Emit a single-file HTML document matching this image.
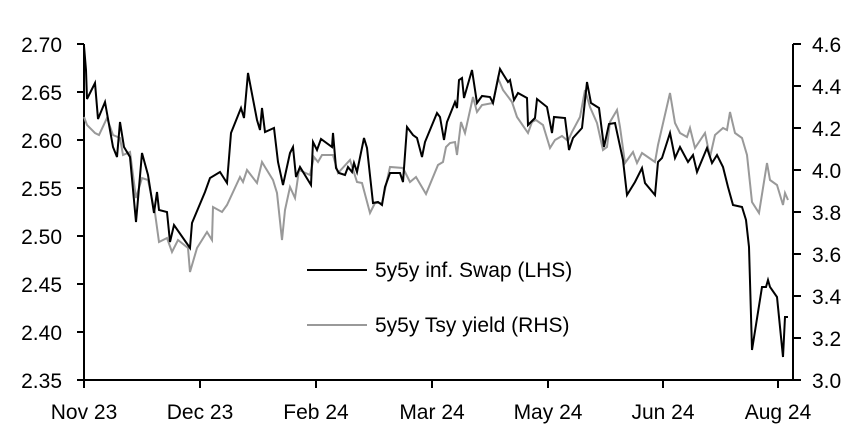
<!DOCTYPE html><html><head><style>body{margin:0;background:#fff}svg{display:block}text{font-family:"Liberation Sans",Arial,sans-serif;fill:#000}</style></head><body>
<svg width="852" height="431" viewBox="0 0 852 431">
<g stroke="#000" stroke-width="2" fill="none">
<path d="M84 44V380H793V44"/>
<path d="M77 44H84M77 92H84M77 140H84M77 188H84M77 236H84M77 284H84M77 332H84M77 380H84"/>
<path d="M793 44H801M793 86H801M793 128H801M793 170H801M793 212H801M793 254H801M793 296H801M793 338H801M793 380H801"/>
<path d="M84 380V388M200 380V388M316 380V388M432 380V388M548 380V388M663 380V388M778 380V388"/>
</g>
<g font-size="21">
<text x="62" y="52" text-anchor="end">2.70</text><text x="62" y="100" text-anchor="end">2.65</text><text x="62" y="148" text-anchor="end">2.60</text><text x="62" y="196" text-anchor="end">2.55</text><text x="62" y="244" text-anchor="end">2.50</text><text x="62" y="292" text-anchor="end">2.45</text><text x="62" y="340" text-anchor="end">2.40</text><text x="62" y="388" text-anchor="end">2.35</text>
<text x="812" y="52">4.6</text><text x="812" y="94">4.4</text><text x="812" y="136">4.2</text><text x="812" y="178">4.0</text><text x="812" y="220">3.8</text><text x="812" y="262">3.6</text><text x="812" y="304">3.4</text><text x="812" y="346">3.2</text><text x="812" y="388">3.0</text>
<g text-anchor="middle"><text x="84" y="419">Nov 23</text><text x="200" y="419">Dec 23</text><text x="316" y="419">Feb 24</text><text x="432" y="419">Mar 24</text><text x="548" y="419">May 24</text><text x="663" y="419">Jun 24</text><text x="778" y="419">Aug 24</text></g>
</g>
<polyline fill="none" stroke="#999" stroke-width="2" points="84,117 87,125 95,133 99,135 107,118 113,135 120,138 123,155 130,152 136,198 142,178 148,180 155,213 159,242 167,238 172,252 178,240 188,248 190,272 197,248 207,232 212,240 213,207 222,212 227,205 240,177 243,182 247,170 257,183 262,162 265,167 273,180 277,193 282,240 285,210 290,187 295,198 299,170 310,175 314,157 318,162 322,155 333,155 338,173 350,160 357,182 362,183 370,213 375,203 382,203 390,167 403,168 410,182 416,177 426,194 438,165 443,162 446,147 450,143 455,142 457,155 461,122 465,133 473,97 477,112 482,105 493,103 498,78 503,90 512,102 517,117 528,133 532,122 536,120 543,125 550,148 555,140 562,136 568,141 572,132 580,117 585,90 590,107 597,123 603,150 607,147 610,122 617,110 620,127 625,163 633,152 637,163 642,153 655,162 658,145 670,93 675,123 680,133 687,137 690,128 695,148 705,133 710,157 715,135 723,128 727,130 730,112 735,133 742,138 747,155 752,202 759,213 767,163 770,180 777,185 783,205 785,193 788,200"/>
<polyline fill="none" stroke="#000" stroke-width="2" points="84,46 86,70 87,99 95,83 98,119 105,102 113,147 117,157 120,122 124,147 130,157 136,222 142,153 148,175 154,213 157,192 159,210 167,212 170,242 174,225 190,248 192,223 205,192 210,178 220,172 227,183 231,133 241,108 244,118 248,73 257,120 260,130 262,108 265,132 274,128 278,162 283,185 290,153 293,147 296,177 300,167 311,185 313,142 317,150 321,139 332,147 333,133 336,168 339,173 345,175 348,167 352,172 354,163 357,172 364,138 367,148 373,203 378,202 382,205 385,187 390,173 400,173 403,182 407,127 413,135 417,138 422,157 425,142 437,113 440,117 444,140 447,122 455,102 457,108 459,80 462,78 464,98 472,70 477,103 482,96 490,97 493,103 500,69 503,74 508,82 510,80 514,100 518,93 527,98 528,125 535,118 537,99 547,107 552,133 554,117 565,118 569,150 573,138 582,128 587,82 591,103 599,108 604,147 609,124 615,123 623,160 627,195 635,182 642,168 645,183 655,195 658,162 662,158 670,133 675,158 680,147 688,162 693,155 697,172 707,148 712,163 717,155 723,167 728,187 733,205 742,207 746,220 749,247 752,350 762,287 766,287 768,280 770,287 777,297 783,357 785,317 788,317"/>
<line x1="307" y1="270" x2="367" y2="270" stroke="#000" stroke-width="2"/>
<line x1="307" y1="325" x2="367" y2="325" stroke="#999" stroke-width="2"/>
<text x="375" y="277" font-size="21">5y5y inf. Swap (LHS)</text>
<text x="375" y="332" font-size="21">5y5y Tsy yield (RHS)</text>
</svg></body></html>
